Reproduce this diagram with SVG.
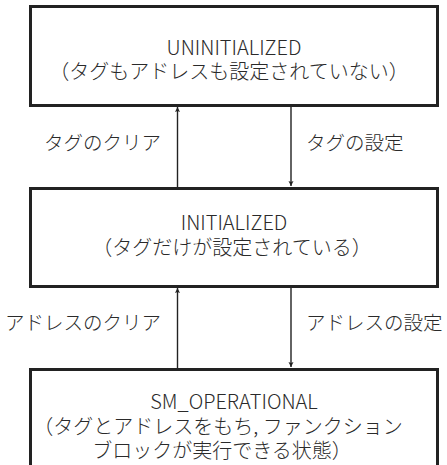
<svg xmlns="http://www.w3.org/2000/svg" width="447" height="465" viewBox="0 0 447 465">
<style>
.box{fill:#fff;stroke:#222;stroke-width:3}
.t{font-family:"Noto Sans CJK JP","Noto Sans",sans-serif;font-size:20px;font-weight:300;fill:#2a2a2a;text-anchor:middle}
.lbl{font-family:"Noto Sans CJK JP","Noto Sans",sans-serif;font-size:19.5px;font-weight:300;fill:#2a2a2a}
.ln{stroke:#222;stroke-width:1.4;fill:none}
</style>
<defs>
<marker id="ah" viewBox="0 0 10 10" refX="10" refY="5" markerWidth="5" markerHeight="8" markerUnits="userSpaceOnUse" orient="auto">
<path d="M0,0 L10,5 L0,10 L2,5 z" fill="#222"/>
</marker>
</defs>
<rect width="447" height="465" fill="#fff"/>
<g id="connectors">
<line class="ln" x1="177.5" y1="188" x2="177.5" y2="107" marker-end="url(#ah)"/>
<line class="ln" x1="291" y1="105" x2="291" y2="186" marker-end="url(#ah)"/>
<line class="ln" x1="177.5" y1="368" x2="177.5" y2="288" marker-end="url(#ah)"/>
<line class="ln" x1="291" y1="286" x2="291" y2="367" marker-end="url(#ah)"/>
<text class="lbl" x="161" y="150" text-anchor="end">タグのクリア</text>
<text class="lbl" x="306" y="150">タグの設定</text>
<text class="lbl" x="161" y="330" text-anchor="end">アドレスのクリア</text>
<text class="lbl" x="306" y="330">アドレスの設定</text>
</g>
<g id="uninitialized">
<rect class="box" x="30.5" y="6.5" width="407" height="99"/>
<text class="t"><tspan x="234" y="55">UNINITIALIZED</tspan><tspan x="229" y="79">（タグもアドレスも設定されていない）</tspan></text>
</g>
<g id="initialized">
<rect class="box" x="30.5" y="188.5" width="407" height="98"/>
<text class="t"><tspan x="234" y="230">INITIALIZED</tspan><tspan x="232" y="255">（タグだけが設定されている）</tspan></text>
</g>
<g id="sm_operational">
<rect class="box" x="30.5" y="369.5" width="407" height="100"/>
<text class="t"><tspan x="234" y="409">SM_OPERATIONAL</tspan><tspan x="218" y="434">（タグとアドレスをもち, ファンクション</tspan><tspan x="222" y="458">ブロックが実行できる状態）</tspan></text>
</g>
</svg>
